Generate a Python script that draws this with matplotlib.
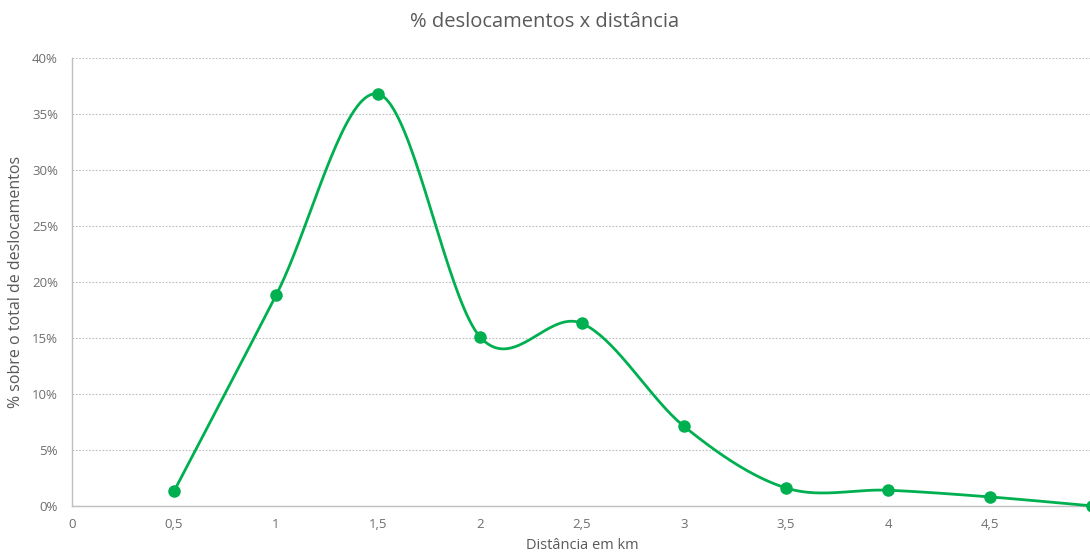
import matplotlib
matplotlib.use('Agg')
import matplotlib.pyplot as plt
import numpy as np

plt.rcParams['font.family'] = ['Open Sans', 'DejaVu Sans']

# dados
distancias = [0.5, 1.0, 1.5, 2.0, 2.5, 3.0, 3.5, 4.0, 4.5, 5.0]
percentuais = [1.3, 18.8, 36.8, 15.1, 16.3, 7.1, 1.6, 1.4, 0.8, 0.0]
y_ticks = [0, 5, 10, 15, 20, 25, 30, 35, 40]
x_ticks = [0, 0.5, 1, 1.5, 2, 2.5, 3, 3.5, 4, 4.5]
x_tick_labels = ['0', '0,5', '1', '1,5', '2', '2,5', '3', '3,5', '4', '4,5']

GREEN = '#00B050'
GRAY_TXT = '#595959'


def smooth_excel(x, y, n=40):
    """Curva suavizada estilo Excel (Bezier cúbica passando pelos pontos)"""
    pts = np.column_stack([x, y]).astype(float)
    out = [pts[0]]
    for i in range(len(pts) - 1):
        p0 = pts[i - 1] if i > 0 else pts[i]
        p1 = pts[i]
        p2 = pts[i + 1]
        p3 = pts[i + 2] if i + 2 < len(pts) else pts[i + 1]
        c1 = p1 + (p2 - p0) / 6.0
        c2 = p2 - (p3 - p1) / 6.0
        t = np.linspace(0, 1, n)[1:, None]
        seg = ((1 - t) ** 3) * p1 + 3 * ((1 - t) ** 2) * t * c1 + 3 * (1 - t) * t ** 2 * c2 + t ** 3 * p2
        out.extend(seg)
    out = np.array(out)
    return out[:, 0], out[:, 1]


fig = plt.figure(figsize=(10.9, 5.59), dpi=100)
ax = fig.add_axes([0.066, 0.095, 0.936, 0.801])

sx, sy = smooth_excel(distancias, percentuais)
ax.plot(sx, sy, color=GREEN, linewidth=2.0, zorder=3, clip_on=False)
ax.plot(distancias, percentuais, linestyle='none', marker='o', markersize=8,
        color=GREEN, zorder=4, clip_on=False)

ax.set_xlim(0, 5)
ax.set_ylim(0, 40)
ax.set_yticks(y_ticks)
ax.set_yticklabels([f'{v}%' for v in y_ticks])
ax.set_xticks(x_ticks)
ax.set_xticklabels(x_tick_labels)

ax.grid(axis='y', color='#BDBDBD', linestyle=(0, (1.5, 1.5)), linewidth=0.8)
ax.set_axisbelow(True)
for side in ['top', 'right']:
    ax.spines[side].set_visible(False)
for side in ['left', 'bottom']:
    ax.spines[side].set_color('#BFBFBF')
    ax.spines[side].set_linewidth(1.0)

ax.tick_params(axis='both', length=0, labelsize=9.5, colors='#6E6E6E')
ax.tick_params(axis='y', pad=10)
ax.tick_params(axis='x', pad=9)

fig.text(0.5, 0.96, '% deslocamentos x distância', fontsize=14.5, color=GRAY_TXT,
         ha='center', va='center')
ax.set_ylabel('% sobre o total de deslocamentos', fontsize=11.5, color=GRAY_TXT, labelpad=6)
ax.set_xlabel('Distância em km', fontsize=10.5, color=GRAY_TXT, labelpad=5)

plt.savefig('out.png', dpi=100, facecolor='white')
